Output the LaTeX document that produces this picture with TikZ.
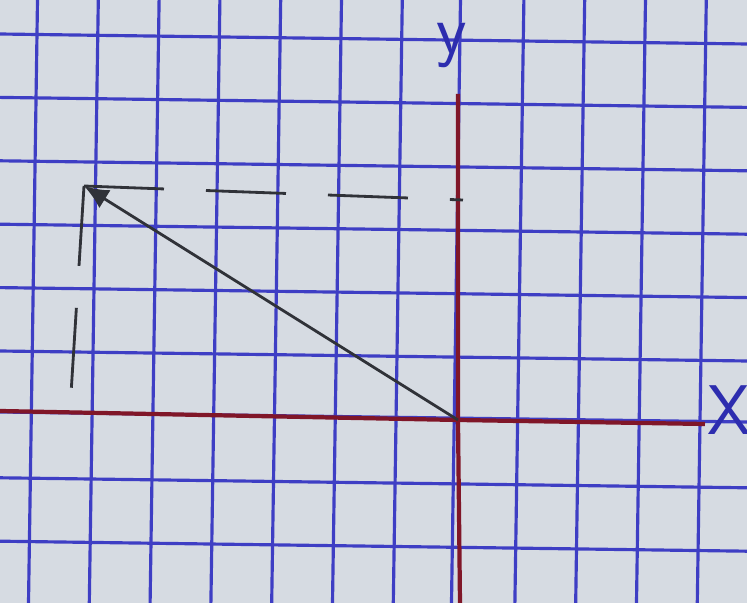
\documentclass[tikz,border=0pt]{standalone}
\usepackage{xcolor}
\usepackage{tikz}
\usetikzlibrary{arrows.meta}

\definecolor{paper}{RGB}{214,219,226}
\definecolor{gridblue}{RGB}{62,62,196}
\definecolor{axisred}{RGB}{128,22,40}
\definecolor{pencil}{RGB}{48,50,56}
\definecolor{inkblue}{RGB}{45,45,175}

\tikzset{
    gridline/.style={gridblue, line width=0.9pt},
    axisline/.style={axisred, line width=1.2pt},
    vecline/.style={pencil, line width=0.8pt, -{Latex[length=7pt, width=6pt]}},
    projline/.style={pencil, line width=0.8pt, dash pattern=on 0.8cm off 0.42cm},
    axislabel/.style={inkblue, font=\sffamily\fontsize{20}{22}\selectfont, inner sep=1pt}
}

\begin{document}
\begin{tikzpicture}[x=0.01cm, y=-0.01cm]
            % Paper sheet
            \useasboundingbox (0,0) rectangle (747,603);
            \fill[paper] (0,0) rectangle (747,603);

            % Draw the squared grid, slightly tilted like the photo
            \foreach \x in {33, 93.8, 154.6, 215.4, 276.2, 337, 397.8, 456, 519.4, 580.2, 641, 701.8} {
                \draw[gridline] (\x + 4.5, 0) -- (\x - 4.5, 603);
            }
            \foreach \y in {39, 102.4, 165.8, 229.2, 292.6, 356, 417, 482.8, 546.2} {
                \draw[gridline] (0, \y - 5) -- (747, \y + 5);
            }

            % Points of the sketch
            \coordinate (O) at (458,420);
            \coordinate (P) at (84,186);
            \coordinate (Py) at (463,200);
            \coordinate (Px) at (70,410);
            \coordinate (xend) at (705,424);
            \coordinate (xstart) at (0,411);
            \coordinate (ytop) at (458,94);
            \coordinate (ybot) at (460,603);

            % Draw the two red axes
            \draw[axisline] (xstart) -- (O) -- (xend);
            \draw[axisline] (ytop) -- (O) -- (ybot);

            % Axis names
            \node[axislabel] (ylab) at (452,46) {y};
            \node[axislabel] (xlab) at (729,410) {X};

            % Vector and its dashed projections
            \draw[projline] (P) -- (Py);
            \draw[projline] (P) -- (Px);
            \draw[vecline] (O) -- (P);
        \end{tikzpicture}
\end{document}
